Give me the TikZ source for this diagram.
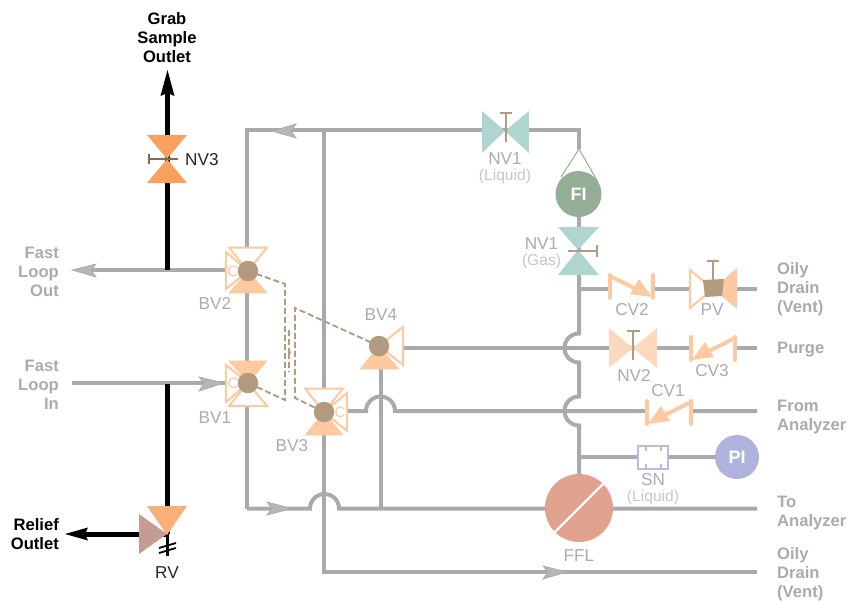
\documentclass[tikz,border=0pt]{standalone}
\usepackage{fontspec}
\setmainfont{Liberation Sans}
\definecolor{pipe}{HTML}{A9A9AE}
\definecolor{peach}{HTML}{FDC9A0}
\definecolor{lpeach}{HTML}{FCD8BC}
\definecolor{orng}{HTML}{F8A15F}
\definecolor{ball}{HTML}{B39B80}
\definecolor{teal}{HTML}{AFD5D0}
\definecolor{fig}{HTML}{93AE94}
\definecolor{pig}{HTML}{AFB2DC}
\definecolor{ffl}{HTML}{E0A18E}
\definecolor{rvb}{HTML}{C59C94}
\definecolor{rvo}{HTML}{F9B077}
\definecolor{sn}{HTML}{B9BCE2}
\definecolor{tg}{HTML}{ABABAF}
\definecolor{tl}{HTML}{C6C6C9}
\newcommand{\subtxt}[1]{{\fontsize{15.6}{16}\selectfont\color{tl}#1}}
\tikzset{
  pipeline/.style={draw=pipe,line width=4pt,line join=miter},
  blackline/.style={draw=black,line width=5pt},
  otri/.style={draw=peach,line width=2pt,fill=white,line join=miter},
  ftri/.style={draw=peach,line width=.6pt,fill=peach},
  handle/.style={draw=#1,line width=2pt},
  dashline/.style={draw=ball,line width=1.9pt,dash pattern=on 6pt off 3pt},
  ballnode/.style={circle,fill=ball,minimum size=20.5pt,inner sep=0},
  cvline/.style={draw=peach,line width=4pt,line cap=round,line join=miter},
  outer/.style={font=\fontsize{16.6}{19}\selectfont\bfseries,text=tg,align=left,anchor=west,inner sep=0},
  rel/.style={font=\fontsize{16.6}{19}\selectfont\bfseries,text=black,align=center,inner sep=0},
  tagl/.style={font=\fontsize{17.2}{16}\selectfont,text=tg,align=center,inner sep=0},
  tagd/.style={font=\fontsize{17.2}{16}\selectfont,text=black!85,align=center,inner sep=0},
  gauge/.style={circle,minimum size=#1,inner sep=0,text=white,font=\fontsize{18}{18}\selectfont\bfseries},
  cmark/.style={font=\fontsize{15}{15}\selectfont,text=peach,inner sep=0},
  midarrow/.style={fill=pipe!85!white,draw=pipe,line width=.7pt,line join=miter}
}
\begin{document}
\begin{tikzpicture}[x=1pt,y=-1pt]
\useasboundingbox (0,0) rectangle (851,600);
% named points
\coordinate (tl) at (247,130);
\coordinate (nv1l) at (505,131);
\coordinate (tr) at (579,130);
\coordinate (fiapex) at (579,149);
\coordinate (bl) at (247,508.5);
\coordinate (hop1a) at (310,508.5);
\coordinate (out1) at (757,508.5);
\coordinate (vtop) at (324,130);
\coordinate (vcorner) at (324,572);
\coordinate (out2) at (757,572);
\coordinate (bv1) at (248,383);
\coordinate (bv2) at (248,271);
\coordinate (bv3) at (324,412);
\coordinate (bv4) at (379,346);
\coordinate (nv1g) at (578,250);
\coordinate (nv3) at (167,159);
\coordinate (nv2) at (633,348);
\coordinate (pv) at (713,289);
\coordinate (rv) at (167,534);
% gray pipes
\draw[pipeline] (bl) -- (tl) -- (tr) -- (fiapex);
\draw[pipeline] (bl) -- (hop1a) arc[start angle=180,end angle=360,radius=14.5] -- (out1);
\draw[pipeline] (vtop) -- (vcorner) -- (out2);
\draw[pipeline] (579,267) -- (579,333.5) arc[start angle=270,end angle=90,radius=14.5] -- (579,396.5) arc[start angle=270,end angle=90,radius=14.5] -- (579,480);
\draw[pipeline] (579,289) -- (757,289);
\draw[pipeline] (385,348) -- (757,348);
\draw[pipeline] (336,411) -- (366,411) arc[start angle=180,end angle=360,radius=14.5] -- (757,411);
\draw[pipeline] (380.5,350) -- (380.5,508);
\draw[pipeline] (579,457) -- (730,457);
\draw[pipeline] (85,270) -- (240,270);
\draw[pipeline] (72,383) -- (bv1);
\draw[pipeline] (579,200) -- (579,250);
% mid-line arrows
\draw[midarrow] (272,131) -- (296,124) -- (291,131) -- (296,138) -- cycle;
\draw[midarrow] (292,508.5) -- (267,502) -- (272,508.5) -- (267,515) -- cycle;
\draw[midarrow] (567,572) -- (543,566) -- (548,572) -- (543,579) -- cycle;
\draw[midarrow] (224,383) -- (199,377) -- (204,383) -- (199,391) -- cycle;
\draw[midarrow] (72,270) -- (96,264) -- (91,270) -- (96,277) -- cycle;
% black
\draw[blackline] (167.5,92) -- (167.5,270);
\draw[blackline] (167.5,384) -- (167.5,534);
\draw[blackline] (rv) -- (84,534);
\fill (167.5,70) -- (174.5,96) -- (167.5,93) -- (160.5,96) -- cycle;
\fill (65,534) -- (88,527.5) -- (85,534) -- (88,540.5) -- cycle;
\draw[draw=black,line width=2.5pt] (167.5,534) -- (167.5,556);
\draw[draw=black,line width=1.8pt] (159,548) -- (176,543) (159,553) -- (176,548);
% RV
\fill[rvb] (139,514) -- (139,554) -- (rv) -- cycle;
\fill[rvo] (147,506) -- (187,506) -- (167,535) -- cycle;
% NV3
\fill[orng] (147,135) -- (187,135) -- (nv3) -- cycle;
\fill[orng] (147,183) -- (187,183) -- (nv3) -- cycle;
\draw[handle=ball!70!black] (149,159) -- (178,159) (149,154) -- (149,164);
% NV1 liquid
\fill[teal] (482,111) -- (482,153) -- (nv1l) -- cycle;
\fill[teal] (529,111) -- (529,153) -- (nv1l) -- cycle;
\draw[handle=ball] (505.5,113) -- (505.5,142) (500,113) -- (512,113);
% FI
\draw[draw=fig,line width=1pt] (561,177) -- (fiapex) -- (598,182);
\node[gauge=46pt,fill=fig] (fi) at (578.5,194) {FI};
% NV1 gas
\fill[teal] (558,227) -- (599,227) -- (nv1g) -- cycle;
\fill[teal] (558,275) -- (599,275) -- (nv1g) -- cycle;
\draw[handle=ball] (568,251) -- (597,251) (597,245) -- (597,257);
% NV2
\fill[lpeach] (609,328) -- (609,368) -- (nv2) -- cycle;
\fill[lpeach] (657,328) -- (657,368) -- (nv2) -- cycle;
\draw[handle=ball] (633,331) -- (633,360) (627,331) -- (640,331);
% PV
\draw[otri] (690,270) -- (690,308) -- (pv) -- cycle;
\fill[peach] (737,268) -- (737,309) -- (pv) -- cycle;
\fill[ball] (703,280) -- (724,279) -- (722,296) -- (705,297) -- cycle;
\draw[handle=ball] (713,262) -- (713,280) (707,261) -- (719,261);
% check valves
\fill[white] (612,280) rectangle (651,296);
\draw[cvline] (610,275) -- (610,298) (653,275) -- (653,298);
\draw[cvline] (610,276) -- (640,291);
\fill[peach] (652,297) -- (630,294) -- (639,279) -- cycle;
\fill[white] (693,345) rectangle (733,358);
\draw[cvline] (691,337) -- (691,360) (735,337) -- (735,360);
\draw[cvline] (735,338) -- (703,354);
\fill[peach] (692,360) -- (714,357) -- (705,342) -- cycle;
\fill[white] (649,405) rectangle (689,420);
\draw[cvline] (647,401) -- (647,424) (691,401) -- (691,424);
\draw[cvline] (691,402) -- (659,418);
\fill[peach] (648,424) -- (670,421) -- (661,406) -- cycle;
% SN
\draw[draw=sn,line width=1.4pt,fill=white] (638,446) rectangle (668,469);
\draw[draw=sn,line width=1.2pt] (646,446) -- (646,451) (646,464) -- (646,469)
  (661,446) -- (661,451) (661,464) -- (661,469);
% PI
\node[gauge=44pt,fill=pig] (pi) at (737,457) {PI};
% FFL
\node[circle,fill=ffl,minimum size=68pt,inner sep=0] (ffln) at (579,508) {};
\draw[draw=white,line width=2.2pt] (554,533) -- (603,484);
% Ball valves
\draw[otri] (229,247.5) -- (267,247.5) -- (bv2) -- cycle;
\draw[ftri] (229,293) -- (267,293) -- (bv2) -- cycle;
\draw[otri] (226,252) -- (226,289) -- (bv2) -- cycle;
\draw[ftri] (229,361) -- (267,361) -- (bv1) -- cycle;
\draw[otri] (229,406) -- (267,406) -- (bv1) -- cycle;
\draw[otri] (226,365) -- (226,402) -- (bv1) -- cycle;
\draw[otri] (305,388.5) -- (343,388.5) -- (bv3) -- cycle;
\draw[ftri] (305,435) -- (343,435) -- (bv3) -- cycle;
\draw[otri] (347,393) -- (347,431) -- (bv3) -- cycle;
\draw[ftri] (360,369) -- (399,369) -- (bv4) -- cycle;
\draw[otri] (403,327) -- (403,365) -- (bv4) -- cycle;
% dashed
\draw[dashline] (bv2) -- (285,284) -- (285,400) -- (bv1);
\draw[dashline] (bv4) -- (295,308) -- (295,398) -- (bv3);
\draw[dashline] (289,330) -- (289,352) -- (294,353) (289,353) -- (289,372);
% balls
\node[ballnode] (b1) at (bv1) {};
\node[ballnode] (b2) at (bv2) {};
\node[ballnode] (b3) at (bv3) {};
\node[ballnode] (b4) at (bv4) {};
\node[cmark] (c1) at (233,383.5) {C};
\node[cmark] (c2) at (233,271.5) {C};
\node[cmark] (c3) at (340,412.5) {C};
% labels
\node[rel] (grab) at (167,38) {Grab\\Sample\\Outlet};
\node[rel,align=right,anchor=east] (relief) at (59,534) {Relief\\Outlet};
\node[outer,align=right,anchor=east] (flo) at (59,271.5) {Fast\\Loop\\Out};
\node[outer,align=right,anchor=east] (fli) at (59,385) {Fast\\Loop\\In};
\node[outer] (od1) at (777,289) {Oily\\Drain\\(Vent)};
\node[outer] (purge) at (777,350) {Purge};
\node[outer] (fa) at (777,417.5) {From\\Analyzer};
\node[outer] (ta) at (777,513) {To\\Analyzer};
\node[outer] (od2) at (777,574) {Oily\\Drain\\(Vent)};
\node[tagd,anchor=west] (tnv3) at (185,160) {NV3};
\node[tagd] (trv) at (167,573) {RV};
\node[tagl] (tbv2) at (215,303) {BV2};
\node[tagl] (tbv1) at (215,417.5) {BV1};
\node[tagl] (tbv3) at (292,445.5) {BV3};
\node[tagl] (tbv4) at (381,315) {BV4};
\node[tagl] (tnv1) at (505,168) {NV1\\\subtxt{(Liquid)}};
\node[tagl] (tnv1g) at (541.5,253) {NV1\\\subtxt{(Gas)}};
\node[tagl] (tcv2) at (632,310) {CV2};
\node[tagl] (tpv) at (712,310) {PV};
\node[tagl] (tnv2) at (634,375) {NV2};
\node[tagl] (tcv3) at (712,371) {CV3};
\node[tagl] (tcv1) at (668,391) {CV1};
\node[tagl] (tsn) at (653,489.5) {SN\\\subtxt{(Liquid)}};
\node[tagl] (tffl) at (579,556) {FFL};
\end{tikzpicture}
\end{document}
